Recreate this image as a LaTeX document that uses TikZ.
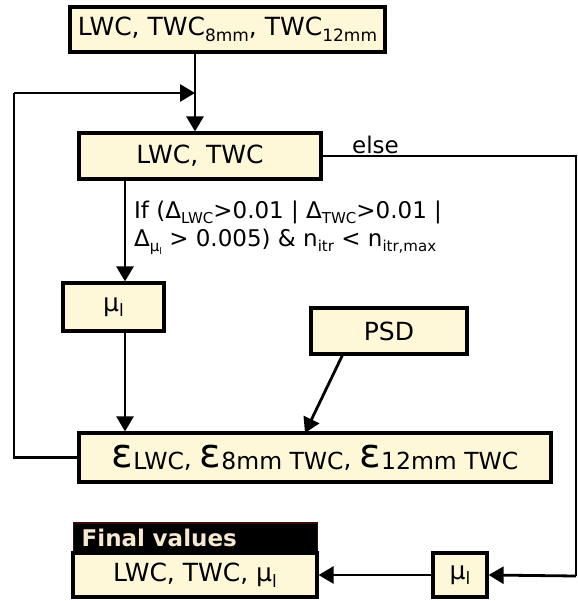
\documentclass[tikz,border=0pt]{standalone}
\usepackage{fontspec}
\setmainfont{DejaVu Sans}
\usetikzlibrary{arrows.meta}
\definecolor{boxfill}{HTML}{FFF8D8}
\definecolor{hdrtext}{HTML}{F7E8D0}
\definecolor{hdrborder}{HTML}{3A0A0A}
\newcommand{\lsub}[1]{\raisebox{-0.22em}{\fontsize{17}{17}\selectfont #1}}
\newcommand{\csub}[1]{\raisebox{-0.22em}{\fontsize{15}{15}\selectfont #1}}
\newcommand{\esub}[1]{\raisebox{-0.1em}{\fontsize{23.5}{24}\selectfont #1}}
\newcommand{\epsbig}{{\fontsize{40}{40}\selectfont ε}}
\begin{document}
\begin{tikzpicture}[x=1pt,y=-1pt,
  fbox/.style={draw=black, line width=3.2pt, fill=boxfill, inner sep=0pt, font=\fontsize{25}{30}\selectfont},
  conn/.style={line width=2.8pt, draw=black},
  arr/.style={conn, -{Triangle[length=15pt,width=17pt]}}]
\useasboundingbox (0,0) rectangle (577,601);
% boxes
\node[fbox, minimum width=315pt, minimum height=45pt] (top) at (227.5,29.5) {LWC, TWC\lsub{8mm}, TWC\lsub{12mm}};
\node[fbox, minimum width=242pt, minimum height=46pt] (lt) at (200,156) {LWC, TWC};
\node[fbox, minimum width=101pt, minimum height=48pt] (mu1) at (113.5,307) {μ\lsub{l}};
\node[fbox, minimum width=156pt, minimum height=46pt] (psd) at (389,331) {PSD};
\node[fbox, minimum width=472pt, minimum height=49pt] (eps) at (315,457.5) {\epsbig\esub{LWC}, \epsbig\esub{8mm TWC}, \epsbig\esub{12mm TWC}};
\node[draw=hdrborder, line width=1.4pt, fill=black, text=hdrtext, minimum width=244pt, minimum height=30pt, inner sep=0pt, font=\fontsize{23}{27}\selectfont\bfseries, anchor=west, text width=228pt] (hdr) at (73,538) {Final values};
\node[fbox, minimum width=244pt, minimum height=44pt] (fin) at (195,575) {LWC, TWC, μ\lsub{l}};
\node[fbox, minimum width=54pt, minimum height=44pt] (mu2) at (460,575) {μ\lsub{l}};
% helper coordinates
\coordinate (cx) at (195,0);
\coordinate (lx) at (125,0);
\coordinate (loopL) at (14,93);
\coordinate (rt) at (576,156);
\coordinate (rb) at (576,576);
\coordinate (psdA) at (343,354);
\coordinate (epsA) at (305,433);
% connectors
\draw[arr] (top.south -| cx) -- (lt.north -| cx);
\draw[conn] (eps.west) -| (loopL);
\draw[arr] (loopL) -- (loopL -| cx);
\draw[conn] (lt.east) -- (rt) -- (rb);
\draw[arr] (rb) -- (mu2.east);
\draw[arr] (mu2.west) -- (fin.east);
\draw[arr] (lt.south -| lx) -- (mu1.north -| lx);
\draw[arr] (mu1.south -| lx) -- (eps.north -| lx);
\draw[arr] (psdA) -- (epsA);
% labels
\node[anchor=west, font=\fontsize{23}{27}\selectfont, inner sep=0pt] (else) at (352,145) {else};
\node[anchor=north west, align=left, inner sep=0pt, font=\fontsize{23}{28}\selectfont] (cond) at (134,201)
  {If (Δ\csub{LWC}>0.01 | Δ\csub{TWC}>0.01 |\\Δ\csub{μ\raisebox{-0.15em}{\fontsize{9}{9}\selectfont l}} > 0.005) \& n\csub{itr} < n\csub{itr,max}};
\end{tikzpicture}
\end{document}
